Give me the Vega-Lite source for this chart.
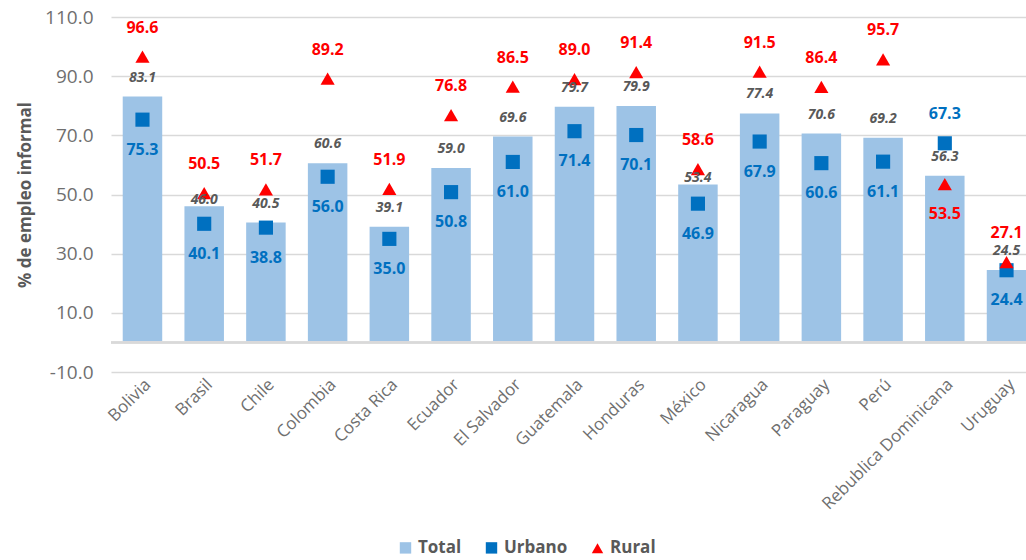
{
  "$schema": "https://vega.github.io/schema/vega-lite/v6.json",
  "width": 915,
  "height": 355,
  "autosize": "none",
  "padding": {"left": 111, "top": 17, "right": 0, "bottom": 188},
  "background": "white",
  "config": {
    "font": "Open Sans",
    "view": {"stroke": null}
  },
  "data": {
    "values": [
      {"country": "Bolivia", "series": "Total", "value": 83.1},
      {"country": "Bolivia", "series": "Urbano", "value": 75.3},
      {"country": "Bolivia", "series": "Rural", "value": 96.6},
      {"country": "Brasil", "series": "Total", "value": 46.0},
      {"country": "Brasil", "series": "Urbano", "value": 40.1},
      {"country": "Brasil", "series": "Rural", "value": 50.5},
      {"country": "Chile", "series": "Total", "value": 40.5},
      {"country": "Chile", "series": "Urbano", "value": 38.8},
      {"country": "Chile", "series": "Rural", "value": 51.7},
      {"country": "Colombia", "series": "Total", "value": 60.6},
      {"country": "Colombia", "series": "Urbano", "value": 56.0},
      {"country": "Colombia", "series": "Rural", "value": 89.2},
      {"country": "Costa Rica", "series": "Total", "value": 39.1},
      {"country": "Costa Rica", "series": "Urbano", "value": 35.0},
      {"country": "Costa Rica", "series": "Rural", "value": 51.9},
      {"country": "Ecuador", "series": "Total", "value": 59.0},
      {"country": "Ecuador", "series": "Urbano", "value": 50.8},
      {"country": "Ecuador", "series": "Rural", "value": 76.8},
      {"country": "El Salvador", "series": "Total", "value": 69.6},
      {"country": "El Salvador", "series": "Urbano", "value": 61.0},
      {"country": "El Salvador", "series": "Rural", "value": 86.5},
      {"country": "Guatemala", "series": "Total", "value": 79.7},
      {"country": "Guatemala", "series": "Urbano", "value": 71.4},
      {"country": "Guatemala", "series": "Rural", "value": 89.0},
      {"country": "Honduras", "series": "Total", "value": 79.9},
      {"country": "Honduras", "series": "Urbano", "value": 70.1},
      {"country": "Honduras", "series": "Rural", "value": 91.4},
      {"country": "México", "series": "Total", "value": 53.4},
      {"country": "México", "series": "Urbano", "value": 46.9},
      {"country": "México", "series": "Rural", "value": 58.6},
      {"country": "Nicaragua", "series": "Total", "value": 77.4},
      {"country": "Nicaragua", "series": "Urbano", "value": 67.9},
      {"country": "Nicaragua", "series": "Rural", "value": 91.5},
      {"country": "Paraguay", "series": "Total", "value": 70.6},
      {"country": "Paraguay", "series": "Urbano", "value": 60.6},
      {"country": "Paraguay", "series": "Rural", "value": 86.4},
      {"country": "Perú", "series": "Total", "value": 69.2},
      {"country": "Perú", "series": "Urbano", "value": 61.1},
      {"country": "Perú", "series": "Rural", "value": 95.7},
      {"country": "Rebublica Dominicana", "series": "Total", "value": 56.3},
      {"country": "Rebublica Dominicana", "series": "Urbano", "value": 67.3},
      {"country": "Rebublica Dominicana", "series": "Rural", "value": 53.5},
      {"country": "Uruguay", "series": "Total", "value": 24.5},
      {"country": "Uruguay", "series": "Urbano", "value": 24.4},
      {"country": "Uruguay", "series": "Rural", "value": 27.1}
    ]
  },
  "encoding": {
    "x": {
      "field": "country",
      "type": "nominal",
      "sort": null,
      "scale": {"range": [0, 927], "paddingInner": 0.36, "paddingOuter": 0.19},
      "axis": {
        "title": null,
        "labelAngle": -45,
        "labelAlign": "right",
        "labelBaseline": "top",
        "labelFontSize": 17,
        "labelColor": "#6F6F6F",
        "labelPadding": 4,
        "ticks": false,
        "domain": false,
        "grid": false
      }
    },
    "y": {
      "field": "value",
      "type": "quantitative",
      "scale": {"domain": [-10, 110], "nice": false, "zero": false},
      "axis": {
        "title": "% de empleo informal",
        "titleFontSize": 17,
        "titleFontWeight": "bold",
        "titleColor": "#595959",
        "titlePadding": 10,
        "values": [-10, 10, 30, 50, 70, 90, 110],
        "labelExpr": "replace(format(datum.value, '.1f'), '\u2212', '-')",
        "labelFontSize": 19,
        "labelColor": "#6F6F6F",
        "labelPadding": 18,
        "ticks": false,
        "domain": false,
        "grid": true,
        "gridColor": "#D9D9D9",
        "gridWidth": 1.5
      }
    }
  },
  "layer": [
    {
      "transform": [{"filter": "datum.series == 'Total'"}],
      "mark": {"type": "bar"},
      "encoding": {
        "y2": {"datum": 0},
        "color": {
          "field": "series",
          "type": "nominal",
          "scale": {"domain": ["Total", "Urbano", "Rural"], "range": ["#9DC3E6", "#0070C0", "#FF0000"]}
        }
      }
    },
    {
      "mark": {"type": "rule", "color": "#D9D9D9", "strokeWidth": 1.5},
      "encoding": {"y": {"datum": 0}, "x": null}
    },
    {
      "transform": [{"filter": "datum.series != 'Total'"}],
      "mark": {"type": "point", "filled": true, "opacity": 1, "size": 200},
      "encoding": {
        "color": {
          "field": "series",
          "type": "nominal",
          "scale": {"domain": ["Total", "Urbano", "Rural"], "range": ["#9DC3E6", "#0070C0", "#FF0000"]},
          "legend": {
            "title": null,
            "orient": "none",
            "legendX": 286,
            "legendY": 522,
            "padding": 0,
            "direction": "horizontal",
            "labelFontSize": 17,
            "labelFontWeight": "bold",
            "labelColor": "#595959",
            "labelOffset": 4,
            "symbolSize": 130,
            "symbolOpacity": 1,
            "columnPadding": 20
          }
        },
        "shape": {
          "field": "series",
          "type": "nominal",
          "scale": {"domain": ["Total", "Urbano", "Rural"], "range": ["square", "square", "triangle-up"]},
          "legend": {
            "title": null,
            "orient": "none",
            "legendX": 286,
            "legendY": 522,
            "padding": 0,
            "direction": "horizontal",
            "labelFontSize": 17,
            "labelFontWeight": "bold",
            "labelColor": "#595959",
            "labelOffset": 4,
            "symbolSize": 130,
            "symbolOpacity": 1,
            "columnPadding": 20
          }
        }
      }
    },
    {
      "transform": [{"filter": "datum.series == 'Total' && datum.country != 'Brasil' && datum.country != 'México'"}],
      "mark": {"type": "text", "dy": -19, "baseline": "middle", "fontStyle": "italic", "fontWeight": "bold", "fontSize": 14, "color": "#595959"},
      "encoding": {"text": {"field": "value", "type": "quantitative", "format": ".1f"}}
    },
    {
      "transform": [{"filter": "datum.series == 'Total' && (datum.country == 'Brasil' || datum.country == 'México')"}],
      "mark": {"type": "text", "dy": -6, "baseline": "middle", "fontStyle": "italic", "fontWeight": "bold", "fontSize": 14, "color": "#595959"},
      "encoding": {"text": {"field": "value", "type": "quantitative", "format": ".1f"}}
    },
    {
      "transform": [
        {"filter": "datum.series != 'Total'"},
        {"joinaggregate": [{"op": "max", "field": "value", "as": "maxv"}], "groupby": ["country"]},
        {"filter": "datum.value == datum.maxv"}
      ],
      "mark": {"type": "text", "dy": -29, "baseline": "middle", "fontWeight": "bold", "fontSize": 16},
      "encoding": {
        "text": {"field": "value", "type": "quantitative", "format": ".1f"},
        "color": {"field": "series", "type": "nominal"}
      }
    },
    {
      "transform": [
        {"filter": "datum.series != 'Total'"},
        {"joinaggregate": [{"op": "max", "field": "value", "as": "maxv"}], "groupby": ["country"]},
        {"filter": "datum.value < datum.maxv"}
      ],
      "mark": {"type": "text", "dy": 30, "baseline": "middle", "fontWeight": "bold", "fontSize": 16},
      "encoding": {
        "text": {"field": "value", "type": "quantitative", "format": ".1f"},
        "color": {"field": "series", "type": "nominal"}
      }
    }
  ]
}
